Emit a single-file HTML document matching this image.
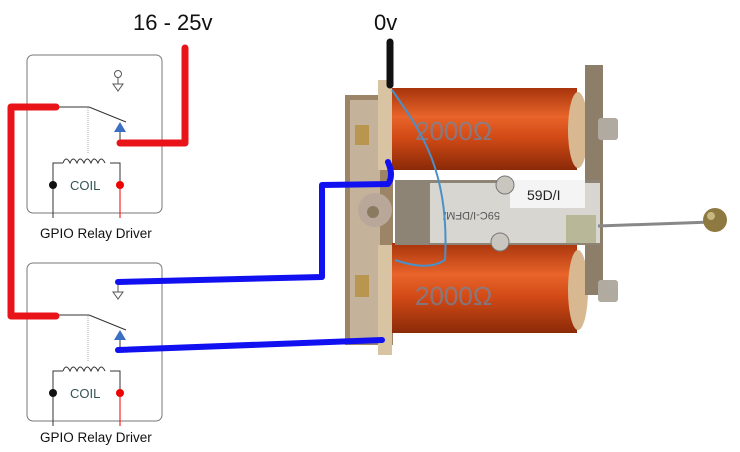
<!DOCTYPE html>
<html><head><style>html,body{margin:0;padding:0;background:#fff}svg{display:block}</style></head><body>
<svg width="740" height="452" viewBox="0 0 740 452" xmlns="http://www.w3.org/2000/svg" font-family="Liberation Sans, DejaVu Sans, sans-serif">
<defs>
<linearGradient id="coil" x1="0" y1="0" x2="0" y2="1">
<stop offset="0" stop-color="#a8340c"/><stop offset="0.35" stop-color="#e8642a"/><stop offset="0.6" stop-color="#d24a16"/><stop offset="1" stop-color="#8a2a08"/>
</linearGradient>
<g id="relay">
<rect x="27" y="55" width="135" height="158" rx="6" fill="#fff" stroke="#777" stroke-width="1"/>
<line x1="55" y1="107" x2="89" y2="107" stroke="#333" stroke-width="1"/>
<line x1="89" y1="107" x2="126" y2="122" stroke="#333" stroke-width="1"/>
<line x1="88" y1="108" x2="88" y2="153" stroke="#aaa" stroke-width="1" stroke-dasharray="1,1"/>
<path d="M114 132 L120 122 L126 132 Z" fill="#3a6fc4"/>
<line x1="120" y1="132" x2="120" y2="143" stroke="#333"/>
<path d="M53 185 V163 H63 M110 163 H120 V185" fill="none" stroke="#333"/>
<path d="M63 163 q3 -8 7 0 q3 -8 7 0 q3 -8 7 0 q3 -8 7 0 q3 -8 7 0 q3 -8 7 0" fill="none" stroke="#333"/>
<line x1="53" y1="185" x2="53" y2="218" stroke="#333"/>
<line x1="120" y1="185" x2="120" y2="218" stroke="#e00"/>
<circle cx="53" cy="185" r="4" fill="#111"/>
<circle cx="120" cy="185" r="4" fill="#e00"/>
<text x="70" y="190" font-size="13" fill="#355">COIL</text>
</g>
</defs>
<use href="#relay"/>
<use href="#relay" transform="translate(0,208)"/>
<circle cx="118" cy="74" r="3.5" fill="none" stroke="#555"/>
<line x1="118" y1="78" x2="118" y2="84" stroke="#555"/>
<path d="M113 84 L123 84 L118 91 Z" fill="#fff" stroke="#555"/>
<line x1="118" y1="284" x2="118" y2="292" stroke="#555"/>
<path d="M113 292 L123 292 L118 299 Z" fill="#fff" stroke="#555"/>
<text x="40" y="238" font-size="13.5" fill="#111">GPIO Relay Driver</text>
<text x="40" y="442" font-size="13.5" fill="#111">GPIO Relay Driver</text>
<text x="133" y="30" font-size="22" fill="#111">16 - 25v</text>
<text x="374" y="30" font-size="22" fill="#111">0v</text>
<g>
<rect x="345" y="95" width="48" height="250" fill="#9c8466"/>
<rect x="350" y="100" width="30" height="240" fill="#c5b29a"/>
<rect x="378" y="80" width="14" height="90" fill="#d8c3a2"/>
<rect x="378" y="245" width="14" height="110" fill="#d8c3a2"/>
<rect x="355" y="125" width="14" height="20" fill="#b89650"/>
<rect x="355" y="275" width="14" height="22" fill="#b89650"/>
<circle cx="375" cy="210" r="17" fill="#b9a89a"/>
<circle cx="373" cy="212" r="6" fill="#8a7a60"/>
<rect x="392" y="88" width="185" height="82" fill="url(#coil)"/>
<rect x="392" y="243" width="185" height="90" fill="url(#coil)"/>
<ellipse cx="578" cy="130" rx="10" ry="38" fill="#d8b890"/>
<ellipse cx="578" cy="290" rx="10" ry="40" fill="#d8b890"/>
<rect x="585" y="65" width="18" height="230" fill="#8d7e6a"/>
<rect x="598" y="118" width="20" height="22" rx="3" fill="#b0aaa0"/>
<rect x="598" y="280" width="20" height="22" rx="3" fill="#b0aaa0"/>
<rect x="395" y="180" width="205" height="65" fill="#8e8476"/>
<rect x="430" y="183" width="170" height="60" fill="#d8d6d0"/>
<rect x="510" y="180" width="75" height="28" fill="#f4f4f4"/>
<text x="527" y="200" font-size="14" fill="#222">59D/I</text>
<text x="440" y="220" font-size="11" fill="#555" transform="rotate(180 470 216)">59C-I/DFM/</text>
<circle cx="505" cy="185" r="9" fill="#c9c6c0" stroke="#777"/>
<circle cx="500" cy="242" r="9" fill="#c9c6c0" stroke="#777"/>
<rect x="566" y="215" width="30" height="28" fill="#b8b898"/>
<line x1="598" y1="226" x2="712" y2="222" stroke="#888" stroke-width="3"/>
<circle cx="715" cy="220" r="12" fill="#8e7a40"/>
<circle cx="711" cy="216" r="4" fill="#c8b880"/>
<text x="415" y="140" font-size="26" fill="#6a8aa8" opacity="0.7">2000Ω</text>
<text x="415" y="305" font-size="26" fill="#6a8aa8" opacity="0.7">2000Ω</text>
<path d="M392 90 C420 130 450 170 445 260 C430 270 410 265 395 260" fill="none" stroke="#4a90c8" stroke-width="2"/>
</g>
<line x1="390" y1="42" x2="390" y2="85" stroke="#111" stroke-width="7" stroke-linecap="round"/>
<path d="M185 48 V143 H120" fill="none" stroke="#e8141a" stroke-width="7" stroke-linecap="round" stroke-linejoin="round"/>
<path d="M56 107 H11 V316 H56" fill="none" stroke="#e8141a" stroke-width="7" stroke-linecap="round" stroke-linejoin="round"/>
<path d="M118 282 L322 277 V185 L388 184 Q394 176 388 162" fill="none" stroke="#1010f0" stroke-width="6" stroke-linecap="round" stroke-linejoin="round"/>
<path d="M118 350 L382 340" fill="none" stroke="#1010f0" stroke-width="6" stroke-linecap="round"/>
</svg>
</body></html>
